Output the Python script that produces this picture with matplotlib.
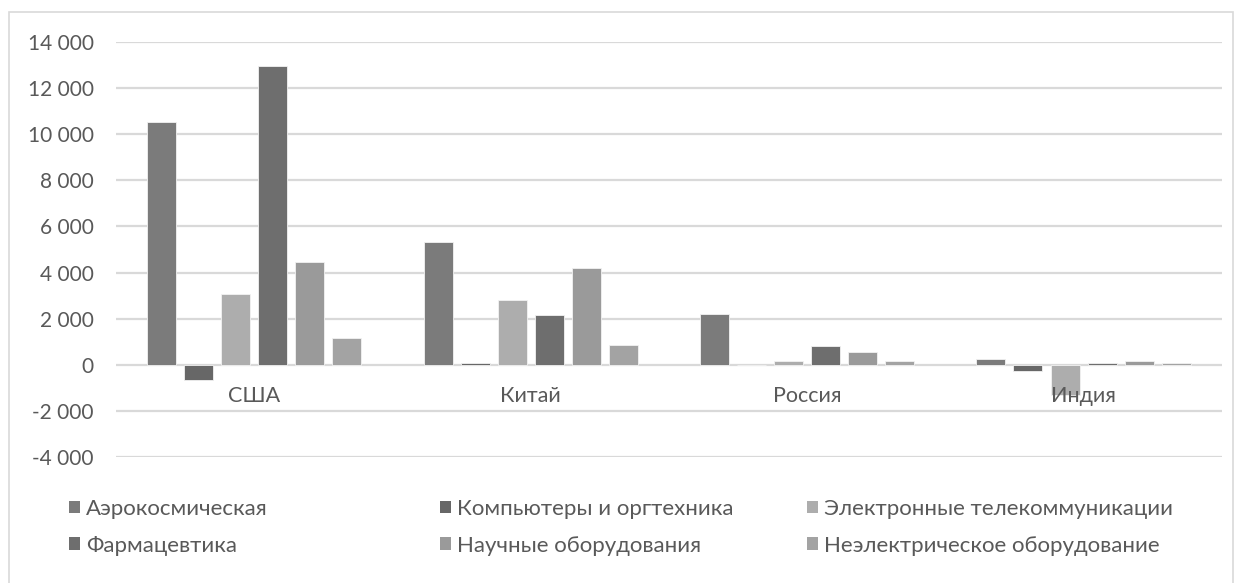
import numpy as np
import matplotlib
matplotlib.use("Agg")
import matplotlib.pyplot as plt
from matplotlib.patches import Rectangle

plt.rcParams['font.family'] = ['Lato', 'Noto Sans', 'DejaVu Sans']

# countries along the x axis
countries = ["США", "Китай", "Россия", "Индия"]

# sectors (one bar series each)
sectors = ["Аэрокосмическая", "Компьютеры и оргтехника", "Электронные телекоммуникации",
           "Фармацевтика", "Научные оборудования", "Неэлектрическое оборудование"]

aero = [10550, 5330, 2200, 260]
computers = [-650, 100, 0, -280]
electronics = [3050, 2830, 150, -1300]
pharma = [12950, 2150, 820, 100]
science = [4450, 4220, 550, 150]
nonelec = [1160, 870, 150, 100]

series = [aero, computers, electronics, pharma, science, nonelec]
colors = ["#7b7b7b", "#676767", "#adadad", "#6e6e6e", "#9a9a9a", "#a3a3a3"]

text_col = "#595959"
grid_col = "#d9d9d9"

fig = plt.figure(figsize=(12.41, 5.83), dpi=100)
ax = fig.add_axes([0.0935, 0.216, 0.891, 0.712])

x = np.arange(len(countries))
step = 0.134
width = 0.105
for k, (vals, col) in enumerate(zip(series, colors)):
    ax.bar(x + (k - 2.5) * step, vals, width, color=col, edgecolor="#f2f2f2",
           linewidth=0.6, label=sectors[k], zorder=3)

ax.set_xlim(-0.5, len(countries) - 0.5)
ax.set_ylim(-4000, 14000)
yt = np.arange(-4000, 14001, 2000)
ax.set_yticks(yt)
ax.set_yticklabels([f"{v:,}".replace(",", " ") for v in yt])
ax.tick_params(axis="y", length=0, pad=16, labelsize=15, labelcolor=text_col)
ax.set_xticks([])
ax.grid(axis="y", color=grid_col, linewidth=1.6, zorder=0)
for s in ax.spines.values():
    s.set_visible(False)

# category labels sit just below the zero line
for i, name in enumerate(countries):
    ax.annotate(name, xy=(i, 0), xytext=(0, -15), textcoords="offset points",
                ha="center", va="top", fontsize=15.5, color=text_col)

# chart frame
fig.patches.append(Rectangle((9 / 1241, -0.01), (1233 - 9) / 1241, 1.01 - 12 / 583,
                             transform=fig.transFigure, fill=False,
                             edgecolor="#d9d9d9", linewidth=1.2))

# legend: three columns of two rows each
handles, labels = ax.get_legend_handles_labels()
cols_x = [69 / 1241, 440 / 1241, 807 / 1241]
for c in range(3):
    h = [handles[c], handles[c + 3]]
    l = [labels[c], labels[c + 3]]
    leg = fig.legend(h, l, loc="upper left", bbox_to_anchor=(cols_x[c], 1 - 499 / 583),
                     frameon=False, fontsize=16, handlelength=0.5, handleheight=0.5,
                     handletextpad=0.25, labelspacing=0.75, borderaxespad=0, borderpad=0)
    for t in leg.get_texts():
        t.set_color(text_col)
    for p in leg.get_patches():
        p.set_edgecolor("none")

fig.savefig("out.png", dpi=100)
